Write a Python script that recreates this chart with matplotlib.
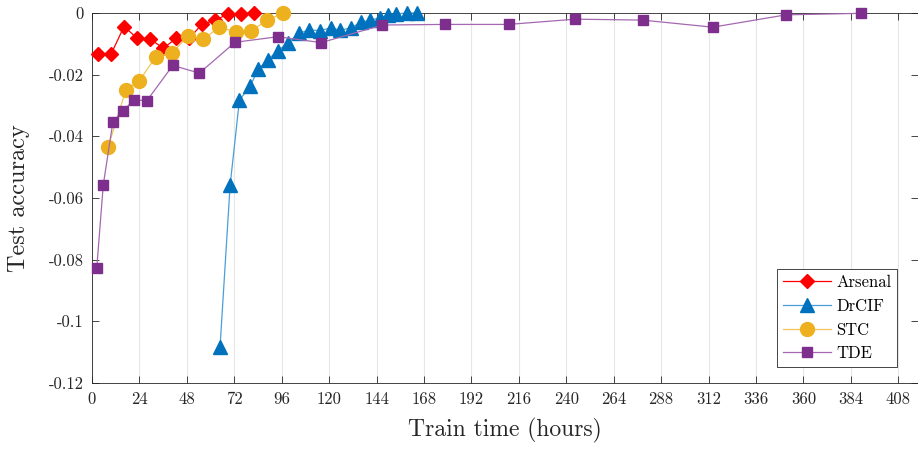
import numpy as np
import matplotlib.pyplot as plt
from matplotlib.ticker import FuncFormatter

plt.rcParams['font.family'] = 'cmr10'
plt.rcParams['mathtext.fontset'] = 'cm'
plt.rcParams['axes.unicode_minus'] = False

# values
arsenal_t = [3.2, 9.6, 16.2, 22.9, 29.4, 36.1, 42.7, 49.3, 55.5, 62.1, 69.0, 75.4, 82.0]
arsenal_acc = [-0.0134, -0.0134, -0.0044, -0.0082, -0.0085, -0.0114, -0.0082, -0.0082,
               -0.0037, -0.0024, -0.0003, -0.0002, 0.0]

drcif_t = [64.8, 69.9, 74.6, 80.0, 84.2, 89.0, 94.1, 99.4, 104.9, 109.7, 115.4, 120.9,
           125.6, 131.3, 135.9, 140.8, 145.7, 149.6, 153.8, 159.5, 164.7]
drcif_acc = [-0.1083, -0.0558, -0.0283, -0.0237, -0.0182, -0.0151, -0.0122, -0.0096,
             -0.0066, -0.0055, -0.0057, -0.0048, -0.0056, -0.0048, -0.0030, -0.0024,
             -0.0015, -0.0008, -0.0003, 0.0, 0.0]

stc_t = [8.25, 17.1, 24.0, 32.3, 40.7, 48.4, 56.4, 64.4, 72.7, 80.5, 88.8, 96.6]
stc_acc = [-0.0433, -0.0250, -0.0219, -0.0142, -0.0129, -0.0075, -0.0085, -0.0046,
           -0.0061, -0.0058, -0.0023, -0.0001]

tde_t = [2.4, 5.7, 10.6, 15.8, 21.3, 27.7, 40.9, 54.3, 72.4, 94.0, 116.0, 147.0,
         178.7, 210.8, 244.6, 278.6, 314.1, 351.2, 389.4]
tde_acc = [-0.0828, -0.0558, -0.0352, -0.0317, -0.0281, -0.0285, -0.0170, -0.0195,
           -0.0095, -0.0077, -0.0096, -0.0039, -0.0037, -0.0037, -0.0020, -0.0023,
           -0.0046, -0.0006, -0.0001]

xticks = np.arange(0, 409, 24)
yticks = [-0.12, -0.1, -0.08, -0.06, -0.04, -0.02, 0]

fig = plt.figure(figsize=(9.18, 4.5), dpi=100)
ax = fig.add_axes([92/918, 1-383/450, 826/918, 370/450])

ax.plot(arsenal_t, arsenal_acc, color='#ff0000', lw=0.9, marker='D', ms=7.2,
        mfc='#ff0000', mec='#ff0000', label='Arsenal', zorder=3, clip_on=False)
ax.plot(drcif_t, drcif_acc, color='#4a9fd8', lw=0.9, marker='^', ms=9.5,
        mfc='#0072bd', mec='#0072bd', label='DrCIF', zorder=3, clip_on=False)
ax.plot(stc_t, stc_acc, color='#f2c45e', lw=0.9, marker='o', ms=10,
        mfc='#edb120', mec='#edb120', label='STC', zorder=3, clip_on=False)
ax.plot(tde_t, tde_acc, color='#a468b0', lw=0.9, marker='s', ms=7,
        mfc='#7e2f8e', mec='#7e2f8e', label='TDE', zorder=3, clip_on=False)

ax.set_xlim(0, 418)
ax.set_ylim(-0.12, 0)
ax.set_xticks(xticks)
ax.set_yticks(yticks)
ax.yaxis.set_major_formatter(FuncFormatter(lambda v, p: '0' if v == 0 else '%g' % v))
ax.tick_params(direction='in', length=5, width=0.6, top=True, right=True,
               labelsize=12, colors='#262626', pad=6)
ax.xaxis.grid(True, color='#e6e6e6', lw=0.8, zorder=0)
ax.set_axisbelow(True)
for s in ax.spines.values():
    s.set_color('#262626')
    s.set_linewidth(0.6)

ax.set_xlabel('Train time (hours)', fontsize=17, color='#262626', labelpad=8)
ax.set_ylabel('Test accuracy', fontsize=17.5, color='#262626', labelpad=13)

leg = ax.legend(loc='lower right', bbox_to_anchor=(0.975, 0.043), borderaxespad=0,
                fontsize=12, handlelength=2.9, fancybox=False, edgecolor='#262626',
                framealpha=1, borderpad=0.35, labelspacing=0.5, handletextpad=0.3)
leg.get_frame().set_linewidth(0.6)

fig.savefig('out.png', dpi=100)
